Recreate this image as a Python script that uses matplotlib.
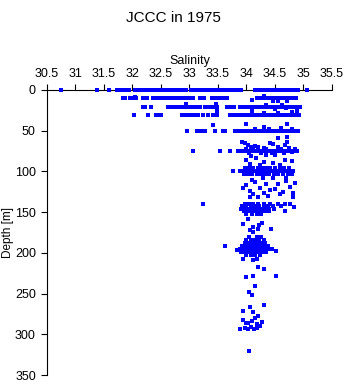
import matplotlib
matplotlib.use('Agg')
import matplotlib.pyplot as plt
import numpy as np

plt.rcParams['font.family'] = ['Liberation Sans', 'DejaVu Sans']

""" salinity values on the standard levels (one depth per list) """
lev_depths = [0, 10, 20.5, 30.5, 50.4, 75, 96, 100, 103]
lev_sal = [
    # 0 m
    [30.74, 31.38, 31.58, 31.73, 31.77, 31.81, 31.85, 31.89, 31.93, 32.04, 32.08, 32.12, 32.16,
     32.21, 32.26, 32.30, 32.34, 32.38, 32.43, 32.47, 32.52, 32.56, 32.60, 32.64, 32.68, 32.72,
     32.78, 32.83, 32.88, 32.93, 33.02, 33.06, 33.10, 33.14, 33.18, 33.22, 33.26, 33.30, 33.34,
     33.38, 33.42, 33.46, 33.51, 33.55, 33.59, 33.63, 33.67, 33.71, 33.74, 33.82, 33.86, 33.91,
     34.15, 34.19, 34.23, 34.27, 34.31, 34.35, 34.39, 34.43, 34.47, 34.51, 34.55, 34.59, 34.63,
     34.67, 34.71, 34.75, 34.79, 34.83, 34.87, 34.90, 35.06],
    # 10 m
    [31.83, 31.87, 31.95, 32.00, 32.06, 32.18, 32.26, 32.36, 32.43, 32.48, 32.53, 32.58, 32.64,
     32.70, 32.76, 32.81, 32.86, 32.92, 32.97, 33.02, 33.06, 33.18, 33.26, 33.40, 33.45, 33.50,
     33.55, 33.60, 33.65, 34.18, 34.23, 34.27, 34.32, 34.37, 34.42, 34.47, 34.52, 34.57, 34.62,
     34.67, 34.72, 34.77, 34.82, 34.87],
    # 20 m
    [32.18, 32.22, 32.32, 32.62, 32.68, 32.74, 32.82, 32.88, 32.94, 33.00, 33.06, 33.12, 33.18,
     33.27, 33.32, 33.38, 33.44, 33.49, 33.66, 33.72, 33.78, 33.88, 33.93, 33.98, 34.03, 34.08,
     34.13, 34.18, 34.23, 34.28, 34.33, 34.38, 34.43, 34.48, 34.53, 34.58, 34.63, 34.68, 34.73,
     34.78, 34.83, 34.88, 34.93],
    # 30 m
    [32.03, 32.27, 32.41, 32.46, 32.50, 32.87, 32.92, 32.98, 33.04, 33.10, 33.15, 33.24, 33.33,
     33.41, 33.48, 33.71, 33.76, 33.81, 33.86, 33.91, 33.96, 34.01, 34.06, 34.11, 34.16, 34.21,
     34.26, 34.31, 34.36, 34.41, 34.46, 34.51, 34.56, 34.61, 34.66, 34.71, 34.76, 34.81, 34.86,
     34.92],
    # 50 m
    [32.95, 33.13, 33.21, 33.28, 33.45, 33.58, 33.62, 33.80, 33.85, 33.90, 33.95, 34.00, 34.05,
     34.10, 34.15, 34.20, 34.25, 34.30, 34.35, 34.40, 34.45, 34.50, 34.55, 34.60, 34.65, 34.70,
     34.75, 34.80, 34.85, 34.90],
    # 75 m
    [33.06, 33.54, 33.71, 33.85, 33.92, 33.97, 34.01, 34.05, 34.09, 34.13, 34.17, 34.21, 34.25,
     34.29, 34.33, 34.37, 34.41, 34.45, 34.49, 34.53, 34.57, 34.61, 34.65, 34.69, 34.73, 34.77,
     34.81, 34.85, 34.89],
    # 96 m
    [33.97, 34.05, 34.12, 34.20, 34.28, 34.35, 34.42, 34.50, 34.58, 34.66, 34.74],
    # 100 m
    [33.76, 33.88, 33.93, 33.98, 34.03, 34.08, 34.13, 34.18, 34.23, 34.28, 34.33, 34.38, 34.43,
     34.48, 34.53, 34.58, 34.63, 34.68, 34.73, 34.78, 34.82],
    # 103 m
    [33.95, 34.02, 34.10, 34.18, 34.26, 34.33, 34.40, 34.48, 34.56, 34.64, 34.72, 34.80],
]

""" scattered casts (salinity, depth) """
sc_sal = [32.04, 34.09, 34.46, 34.55, 34.71, 34.30,
          32.93, 33.46, 33.48, 34.10, 34.88, 34.35, 34.50, 34.62, 34.70,
          33.48, 34.80, 34.30, 34.55,
          33.41, 34.00, 34.30, 34.71, 34.55, 34.71, 34.15, 34.40, 34.60, 34.80,
          33.92, 33.97, 34.02, 34.41, 34.46, 34.71, 34.68, 34.08, 34.20, 34.30, 34.55, 34.75,
          34.85, 34.00, 34.12, 34.60, 34.35, 34.05, 34.25, 34.45, 34.65, 34.80, 34.15,
          34.08, 34.17, 34.35, 34.50, 34.67, 34.79, 34.06, 34.24, 34.46, 34.58, 34.00, 34.30,
          34.09, 34.29, 34.46, 34.69, 33.94, 34.06, 34.24, 34.41, 34.64, 34.82, 34.76, 34.85,
          34.06, 34.20, 34.38, 34.59, 34.82, 34.15, 34.35, 34.55, 34.00, 34.70, 34.50, 34.30,
          34.12,
          33.23, 33.97, 34.05, 34.12, 34.20, 34.30, 34.42, 34.55, 34.68, 34.76,
          33.92, 34.00, 34.08, 34.15, 34.22, 34.30, 34.38, 34.46, 34.60,
          33.90, 33.98, 34.04, 34.10, 34.16, 34.22, 34.28, 34.34, 34.40, 34.48, 34.67, 34.83,
          33.96, 34.02, 34.08, 34.14, 34.20, 34.26, 34.32, 34.40, 34.00, 34.10, 34.18, 34.26,
          33.94, 34.02, 34.12, 34.21, 34.43, 34.06, 34.12, 34.28, 34.22,
          34.05, 34.18, 34.25, 34.00, 34.08, 34.15, 34.22, 34.30,
          33.98, 34.05, 34.12, 34.18, 34.25, 34.32,
          33.92, 34.00, 34.06, 34.12, 34.18, 34.24, 34.30, 34.38,
          33.88, 33.95, 34.02, 34.08, 34.14, 34.20, 34.26, 34.32, 34.40, 34.45,
          33.90, 33.98, 34.04, 34.10, 34.16, 34.22, 34.28, 34.35, 34.00, 34.08, 34.15, 34.24,
          33.62, 33.83, 34.52, 33.94, 34.12, 34.19, 34.21, 34.31,
          34.00, 34.11, 34.51, 34.15, 34.05, 34.10, 34.30, 34.06,
          33.94, 34.12, 33.94, 34.03, 34.27, 34.15, 34.21, 33.88,
          33.98, 34.03, 34.08, 34.13, 34.18, 34.23, 34.00, 34.10, 34.18, 34.05]
sc_dep = [8, 12, 13, 13, 13, 7,
          17, 17, 26, 26, 26, 18, 23, 18, 22,
          27, 26.6, 28, 28,
          43, 42, 45, 42, 59, 58, 48, 48, 47, 48,
          64, 65, 68, 65, 66, 64, 68, 70, 70, 71, 70, 71,
          72, 72, 73, 73, 73, 77, 77, 77, 77, 76, 69,
          81, 84, 80, 80, 86, 87, 91, 92, 90, 92, 86, 88,
          110, 108, 108, 108, 120, 124, 120, 123, 125, 127, 119, 114,
          132, 132, 130, 128, 132, 113, 115, 116, 117, 112, 122, 126,
          128,
          140, 140, 140, 140, 140, 140, 140, 140, 140, 140,
          143, 143, 143, 143, 143, 143, 143, 143, 143,
          146, 146, 146, 146, 146, 146, 146, 146, 146, 146, 149, 144,
          149, 149, 149, 149, 149, 149, 149, 149, 152, 152, 152, 152,
          164, 158, 168, 171, 171, 172, 174, 163, 166,
          180, 180, 180, 184, 184, 184, 184, 184,
          188, 188, 188, 188, 188, 188,
          192, 192, 192, 192, 192, 192, 192, 192,
          195, 195, 195, 195, 195, 195, 195, 195, 195, 195,
          199, 199, 199, 199, 199, 199, 199, 199, 203, 203, 203, 203,
          192, 197, 198, 208, 209, 208, 217, 220,
          230, 229, 228, 241, 248, 252, 264, 266,
          272, 273, 282, 286, 285, 280, 278, 294,
          292, 293, 291, 294, 292, 290, 286, 284, 287, 320]

sal = np.concatenate([np.array(s) for s in lev_sal] + [np.array(sc_sal)])
dep = np.concatenate([np.full(len(s), d) for s, d in zip(lev_sal, lev_depths)] + [np.array(sc_dep)])

fig = plt.figure(figsize=(3.46, 3.84), dpi=100)
ax = fig.add_axes([47/346, 1-375/384, 285/346, 285/384])
ax.scatter(sal, dep, s=5.5, marker='s', c='#0000ff', linewidths=0, clip_on=False, zorder=3)

ax.set_xlim(30.5, 35.5)
ax.set_ylim(350, 0)
ax.set_xticks(np.arange(30.5, 35.6, 0.5))
ax.set_xticklabels(['30.5', '31', '31.5', '32', '32.5', '33', '33.5', '34', '34.5', '35', '35.5'])
ax.set_yticks(np.arange(0, 351, 50))
ax.xaxis.tick_top()
ax.xaxis.set_label_position('top')
ax.spines['right'].set_visible(False)
ax.spines['bottom'].set_visible(False)
ax.tick_params(axis='both', direction='out', length=4, width=0.8, labelsize=9, pad=3)
ax.tick_params(axis='y', pad=4)
ax.set_xlabel('Salinity', fontsize=9, labelpad=3)
ax.set_ylabel('Depth [m]', fontsize=8.5)
ax.yaxis.set_label_coords(-0.115, 0.5)
fig.text(0.5, 1-18/384, 'JCCC in 1975', ha='center', va='center', fontsize=11)

plt.savefig('out.png', dpi=100)
